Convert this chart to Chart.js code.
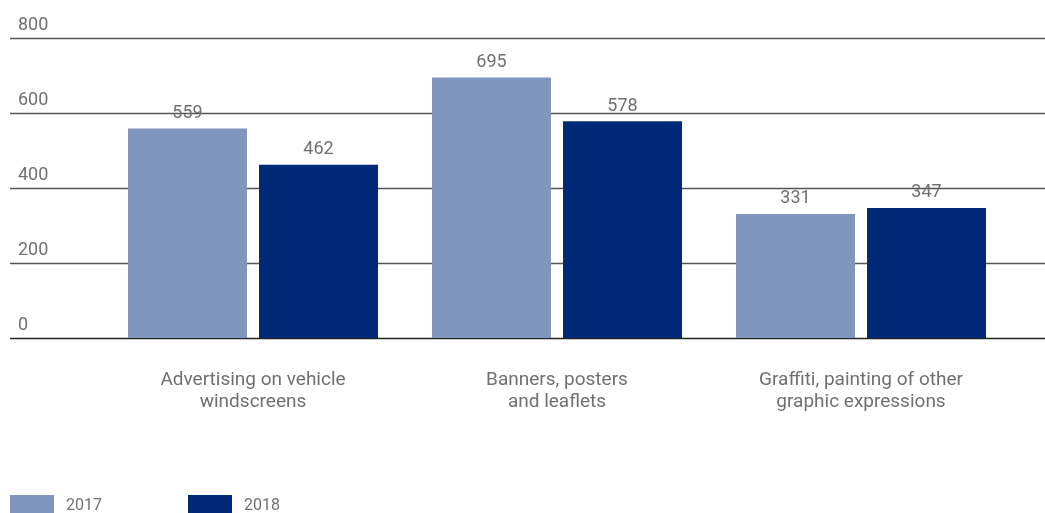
<!DOCTYPE html>
<html>
<head>
<meta charset="utf-8">
<script src="https://cdn.jsdelivr.net/npm/chart.js@4"></script>
<style>
  html, body { margin: 0; padding: 0; background: #fff; }
  #wrap { width: 1045px; height: 513px; position: relative; }
</style>
</head>
<body>
<div id="wrap"><canvas id="chart"></canvas></div>
<script>
// data
const categories = [
  ["Advertising on vehicle", "windscreens"],
  ["Banners, posters", "and leaflets"],
  ["Graffiti, painting of other", "graphic expressions"]
];
const seriesNames = ["2017", "2018"];
const values2017 = [559, 695, 331];
const values2018 = [462, 578, 347];
const yTicks = [0, 200, 400, 600, 800];

const colors = ["#8096be", "#002a77"];
const textColor = "#707070";
const fontFamily = "Roboto, 'Noto Sans', sans-serif";

// horizontal grid lines across full width + labels above them
const gridPlugin = {
  id: "fullGrid",
  beforeDatasetsDraw(chart) {
    const ctx = chart.ctx;
    const y = chart.scales.y;
    ctx.save();
    yTicks.forEach(v => {
      const py = Math.round(y.getPixelForValue(v)) + 0.5;
      ctx.strokeStyle = v === 0 ? "#222" : "#555";
      ctx.lineWidth = 1.5;
      ctx.beginPath();
      ctx.moveTo(10, py);
      ctx.lineTo(1045, py);
      ctx.stroke();
      ctx.fillStyle = textColor;
      ctx.font = "18px " + fontFamily;
      ctx.textAlign = "left";
      ctx.textBaseline = "alphabetic";
      ctx.fillText(String(v), 18, py - 9);
    });
    ctx.restore();
  }
};

// value labels above bars
const valuePlugin = {
  id: "valueLabels",
  afterDatasetsDraw(chart) {
    const ctx = chart.ctx;
    ctx.save();
    ctx.fillStyle = textColor;
    ctx.font = "18px " + fontFamily;
    ctx.textAlign = "center";
    ctx.textBaseline = "middle";
    chart.data.datasets.forEach((ds, i) => {
      chart.getDatasetMeta(i).data.forEach((bar, j) => {
        ctx.fillText(String(ds.data[j]), bar.x, bar.y - 15);
      });
    });
    ctx.restore();
  }
};

// legend at bottom-left
const legendPlugin = {
  id: "bottomLegend",
  afterDraw(chart) {
    const ctx = chart.ctx;
    ctx.save();
    ctx.font = "16px " + fontFamily;
    ctx.textBaseline = "middle";
    ctx.textAlign = "left";
    chart.data.datasets.forEach((ds, i) => {
      const x = 10 + i * 178;
      ctx.fillStyle = ds.backgroundColor;
      ctx.fillRect(x, 495, 44, 18);
      ctx.fillStyle = textColor;
      ctx.fillText(ds.label, x + 56, 506);
    });
    ctx.restore();
  }
};

new Chart(document.getElementById("chart"), {
  type: "bar",
  data: {
    labels: categories,
    datasets: [
      { label: seriesNames[0], data: values2017, backgroundColor: colors[0] },
      { label: seriesNames[1], data: values2018, backgroundColor: colors[1] }
    ]
  },
  options: {
    responsive: true,
    maintainAspectRatio: false,
    animation: false,
    layout: { padding: { top: 38, left: 101, right: 32, bottom: 0 } },
    datasets: { bar: { categoryPercentage: 0.862, barPercentage: 0.908 } },
    plugins: { legend: { display: false }, tooltip: { enabled: false } },
    scales: {
      x: {
        grid: { display: false },
        border: { display: false },
        ticks: {
          color: textColor,
          font: { family: fontFamily, size: 19, lineHeight: 1.16 },
          padding: 23,
          maxRotation: 0
        },
        afterFit(scale) { scale.height = 175; }
      },
      y: {
        display: false,
        min: 0,
        max: 800
      }
    }
  },
  plugins: [gridPlugin, valuePlugin, legendPlugin]
});
</script>
</body>
</html>
